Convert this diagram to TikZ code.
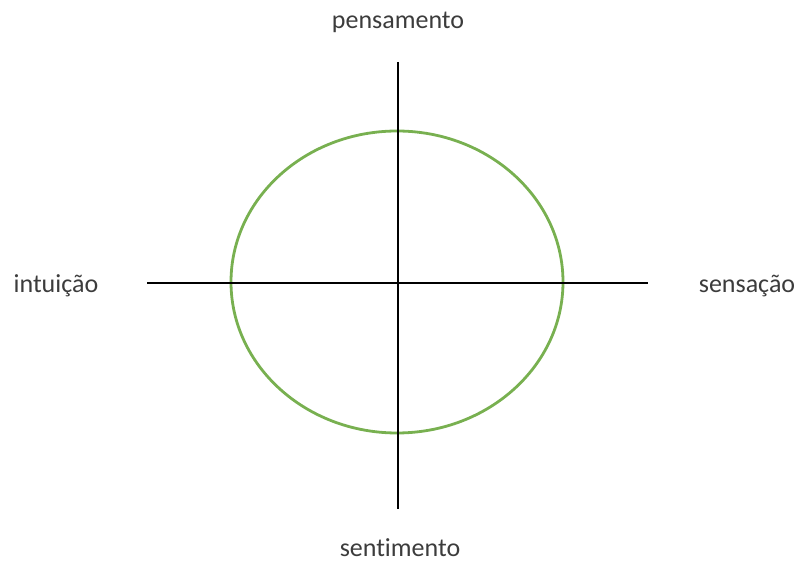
\documentclass[tikz,border=0pt]{standalone}
\usepackage{fontspec}
\setmainfont{Carlito}[Ligatures=NoCommon]
\definecolor{ringgreen}{RGB}{120,176,80}
\definecolor{txtgray}{RGB}{60,60,60}
\begin{document}
\begin{tikzpicture}[x=1pt,y=1pt,
  lbl/.style={font=\fontsize{26}{30}\selectfont, text=txtgray, inner sep=0pt, anchor=base},
  axis/.style={draw=black, line width=1.3pt},
  ring/.style={draw=ringgreen, line width=2.8pt}]
\useasboundingbox (0,0) rectangle (800,562);
% labels (y = 562 - image y)
\node[lbl] (pens) at (398,533) {pensamento};
\node[lbl] (intu) at (56,269) {intuição};
\node[lbl] (sens) at (747,269) {sensação};
\node[lbl] (sent) at (400,6) {sentimento};
% axis ends
\coordinate (top) at (398,500);
\coordinate (bot) at (398,53);
\coordinate (lft) at (147,279);
\coordinate (rgt) at (648,279);
\coordinate (ctr) at (397,280);
\draw[ring] (ctr) ellipse [x radius=166, y radius=151];
\draw[axis] (top) -- (bot);
\draw[axis] (lft) -- (rgt);
\end{tikzpicture}
\end{document}
